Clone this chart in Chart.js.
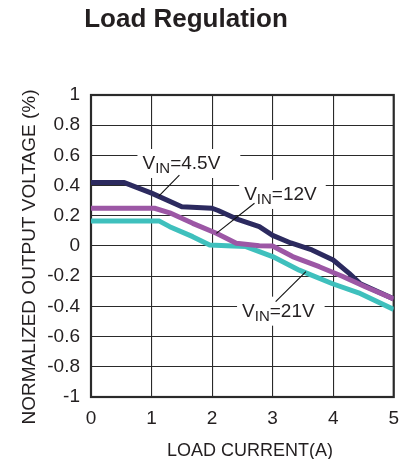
<!DOCTYPE html>
<html>
<head>
<meta charset="utf-8">
<script src="https://cdn.jsdelivr.net/npm/chart.js@4"></script>
<style>
html,body{margin:0;padding:0;background:#fff;}
#wrap{width:409px;height:459px;position:relative;}
</style>
</head>
<body>
<div id="wrap"><canvas id="c" width="409" height="459"></canvas></div>
<script>
// ---- data ----
const chartTitle = "Load Regulation";
const xAxisTitle = "LOAD CURRENT(A)";
const yAxisTitle = "NORMALIZED OUTPUT VOLTAGE (%)";

const xTickValues = [0, 1, 2, 3, 4, 5];
const xTickLabels = ["0", "1", "2", "3", "4", "5"];
const yTickValues = [-1, -0.8, -0.6, -0.4, -0.2, 0, 0.2, 0.4, 0.6, 0.8, 1];
const yTickLabels = ["-1", "-0.8", "-0.6", "-0.4", "-0.2", "0", "0.2", "0.4", "0.6", "0.8", "1"];

const seriesNames = ["VIN=4.5V", "VIN=12V", "VIN=21V"];

const current45 = [0, 0.55, 1.0, 1.5, 2.0, 2.1, 2.4, 2.78, 3.0, 3.3, 3.65, 4.0, 4.26, 4.45, 5.0];
const vout45    = [0.42, 0.42, 0.35, 0.26, 0.25, 0.235, 0.18, 0.128, 0.07, 0.02, -0.026, -0.093, -0.18, -0.25, -0.35];

const current12 = [0, 1.05, 1.3, 1.68, 2.07, 2.4, 2.78, 3.0, 3.33, 3.77, 4.15, 4.53, 5.0];
const vout12    = [0.25, 0.25, 0.22, 0.15, 0.084, 0.018, 0.002, 0.0, -0.07, -0.137, -0.2, -0.27, -0.35];

const current21 = [0, 1.13, 1.3, 1.68, 1.96, 2.34, 2.56, 3.0, 3.44, 3.99, 4.42, 5.0];
const vout21    = [0.165, 0.165, 0.128, 0.062, 0.007, 0.0, -0.004, -0.07, -0.16, -0.25, -0.31, -0.42];

// label anchor (text left, baseline) and leader line in data units
const labelX      = [0.85, 2.53, 2.495];
const labelY      = [0.51, 0.305, -0.468];
const leaderFromX = [1.46, 2.70, 3.05];
const leaderFromY = [0.47, 0.283, -0.369];
const leaderToX   = [1.12, 2.07, 3.55];
const leaderToY   = [0.33, 0.084, -0.17];

// ---- styles ----
const FONT = "'Liberation Sans', Arial, Helvetica, sans-serif";
const TEXT = "#231f20";
const GRID = "#2a2a2a";
const colors = ["#2c2a5f", "#9c57a5", "#3fc0bd"];
const labelPadRight = [20, 9, 10];

function pts(xs, ys){ return xs.map((x,i)=>({x:x, y:ys[i]})); }

const customDraw = {
  id: 'customDraw',
  beforeDatasetsDraw(chart){
    const {ctx, chartArea:a} = chart;
    ctx.save();
    ctx.strokeStyle = GRID;
    ctx.lineWidth = 2.2;
    ctx.strokeRect(a.left, a.top, a.right - a.left, a.bottom - a.top);
    ctx.restore();
  },
  afterDatasetsDraw(chart){
    const {ctx} = chart;
    const xs = chart.scales.x, ys = chart.scales.y;
    ctx.save();
    for (let i = 0; i < seriesNames.length; i++){
      const name = seriesNames[i];
      const main = name.slice(0,1), sub = name.slice(1,3), rest = name.slice(3);
      const px = xs.getPixelForValue(labelX[i]);
      const py = ys.getPixelForValue(labelY[i]);
      const fMain = "19px " + FONT, fSub = "15px " + FONT;
      ctx.font = fMain; const w1 = ctx.measureText(main).width;
      ctx.font = fSub;  const w2 = ctx.measureText(sub).width;
      ctx.font = fMain; const w3 = ctx.measureText(rest).width;
      const total = w1 + w2 + w3;
      ctx.fillStyle = "#ffffff";
      ctx.fillRect(px - 5, py - 20, total + 5 + labelPadRight[i], 29);
      // leader
      ctx.strokeStyle = "#111";
      ctx.lineWidth = 1.1;
      ctx.beginPath();
      ctx.moveTo(xs.getPixelForValue(leaderFromX[i]), ys.getPixelForValue(leaderFromY[i]));
      ctx.lineTo(xs.getPixelForValue(leaderToX[i]), ys.getPixelForValue(leaderToY[i]));
      ctx.stroke();
      // text
      ctx.fillStyle = TEXT;
      ctx.textBaseline = "alphabetic";
      ctx.textAlign = "left";
      ctx.font = fMain; ctx.fillText(main, px, py);
      ctx.font = fSub;  ctx.fillText(sub, px + w1, py + 4.5);
      ctx.font = fMain; ctx.fillText(rest, px + w1 + w2, py);
    }
    ctx.restore();
  },
  afterDraw(chart){
    const {ctx} = chart;
    ctx.save();
    ctx.fillStyle = TEXT;
    ctx.textAlign = "center";
    ctx.textBaseline = "alphabetic";
    ctx.font = "bold 26px " + FONT;
    ctx.fillText(chartTitle, 186, 27);
    ctx.font = "18px " + FONT;
    ctx.fillText(xAxisTitle, 250, 456);
    ctx.translate(30, 257);
    ctx.rotate(-Math.PI/2);
    ctx.textBaseline = "middle";
    ctx.font = "19px " + FONT;
    ctx.fillText(yAxisTitle, 0, 0);
    ctx.restore();
  }
};

new Chart(document.getElementById('c'), {
  type: 'line',
  data: {
    datasets: [
      { label: seriesNames[0], data: pts(current45, vout45), borderColor: colors[0], borderWidth: 5, pointRadius: 0, tension: 0, fill: false, order: 2, borderJoinStyle: 'round' },
      { label: seriesNames[1], data: pts(current12, vout12), borderColor: colors[1], borderWidth: 5, pointRadius: 0, tension: 0, fill: false, order: 0, borderJoinStyle: 'round' },
      { label: seriesNames[2], data: pts(current21, vout21), borderColor: colors[2], borderWidth: 5, pointRadius: 0, tension: 0, fill: false, order: 1, borderJoinStyle: 'round' }
    ]
  },
  options: {
    responsive: false,
    animation: false,
    devicePixelRatio: 1,
    layout: { padding: { top: 95, right: 14, left: 0, bottom: 0 } },
    plugins: { legend: { display: false }, title: { display: false }, tooltip: { enabled: false } },
    scales: {
      x: {
        type: 'linear', min: 0, max: 5,
        afterBuildTicks: s => { s.ticks = xTickValues.map(v => ({value: v})); },
        afterFit: s => { s.height = 62; },
        ticks: { callback: (v, i) => xTickLabels[i], color: TEXT, font: { family: FONT, size: 19 }, padding: 10, maxRotation: 0 },
        grid: { color: GRID, lineWidth: 1.1, drawTicks: false },
        border: { display: false }
      },
      y: {
        type: 'linear', min: -1, max: 1,
        afterBuildTicks: s => { s.ticks = yTickValues.map(v => ({value: v})); },
        afterFit: s => { s.width = 91; },
        ticks: { callback: (v, i) => yTickLabels[i], color: TEXT, font: { family: FONT, size: 19 }, padding: 11 },
        grid: { color: GRID, lineWidth: 1.1, drawTicks: false },
        border: { display: false }
      }
    }
  },
  plugins: [customDraw]
});
</script>
</body>
</html>
